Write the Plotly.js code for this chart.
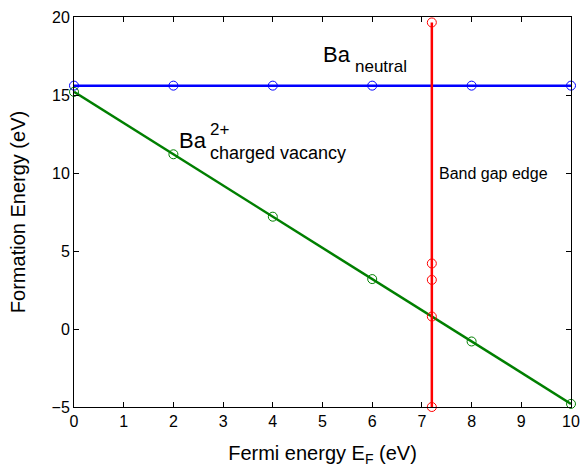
<!DOCTYPE html>
<html>
<head>
<meta charset="utf-8">
<script src="https://cdn.plot.ly/plotly-3.0.1.min.js"></script>
<style>html,body{margin:0;padding:0;background:#fff;}#chart{width:584px;height:468px;}</style>
</head>
<body>
<div id="chart"></div>
<script>
// Fermi energy sample points (eV)
const fermiX = [0, 2, 4, 6, 8, 10];
// Ba neutral formation energy (eV)
const baNeutral = [15.6, 15.6, 15.6, 15.6, 15.6, 15.6];
// Ba 2+ charged vacancy formation energy (eV)
const baCharged = [15.2, 11.2, 7.2, 3.2, -0.8, -4.8];
// Band gap edge vertical line
const gapX = [7.2, 7.2, 7.2, 7.2, 7.2];
const gapY = [-5, 0.8, 3.15, 4.2, 19.65];

const font = "Liberation Sans, Arial, sans-serif";

const traces = [
  {x: fermiX, y: baNeutral, mode: 'lines+markers', line: {color: '#0000ff', width: 2.5},
   marker: {symbol: 'circle-open', size: 9, color: '#0000ff', line: {width: 1}}, showlegend: false, cliponaxis: false},
  {x: fermiX, y: baCharged, mode: 'lines+markers', line: {color: '#007f00', width: 2.5},
   marker: {symbol: 'circle-open', size: 9, color: '#007f00', line: {width: 1}}, showlegend: false, cliponaxis: false},
  {x: gapX, y: gapY, mode: 'lines+markers', line: {color: '#ff0000', width: 2.5},
   marker: {symbol: 'circle-open', size: 9, color: '#ff0000', line: {width: 1}}, showlegend: false, cliponaxis: false}
];

const ann = (text, x, y, size) => ({text, x, y, xref: 'x', yref: 'y', xanchor: 'left', yanchor: 'middle',
  showarrow: false, font: {family: font, size, color: '#000'}});

const layout = {
  width: 584, height: 468,
  margin: {l: 74, r: 13, t: 17, b: 61},
  paper_bgcolor: '#fff', plot_bgcolor: '#fff',
  font: {family: font, size: 16, color: '#000'},
  xaxis: {range: [0, 10], dtick: 1, tick0: 0, ticks: 'inside', ticklen: 5, tickcolor: '#000',
    showline: true, linecolor: '#000', linewidth: 1, mirror: 'ticks', showgrid: false, zeroline: false,
    tickfont: {size: 16}, title: {text: 'Fermi energy E<sub>F</sub> (eV)', font: {size: 20}, standoff: 16}},
  yaxis: {range: [-5, 20], dtick: 5, tick0: 0, ticks: 'inside', ticklen: 5, tickcolor: '#000',
    showline: true, linecolor: '#000', linewidth: 1, mirror: 'ticks', showgrid: false, zeroline: false,
    tickfont: {size: 16}, title: {text: 'Formation Energy (eV)', font: {size: 20}, standoff: 20}},
  annotations: [
    ann('Ba', 4.97, 17.57, 22),
    ann('neutral', 5.62, 16.8, 17),
    ann('Ba', 2.07, 12.08, 22),
    ann('2+', 2.70, 12.78, 17),
    ann('charged vacancy', 2.70, 11.3, 18),
    ann('Band gap edge', 7.30, 9.97, 16)
  ]
};

Plotly.newPlot('chart', traces, layout, {displayModeBar: false, staticPlot: true});
</script>
</body>
</html>
